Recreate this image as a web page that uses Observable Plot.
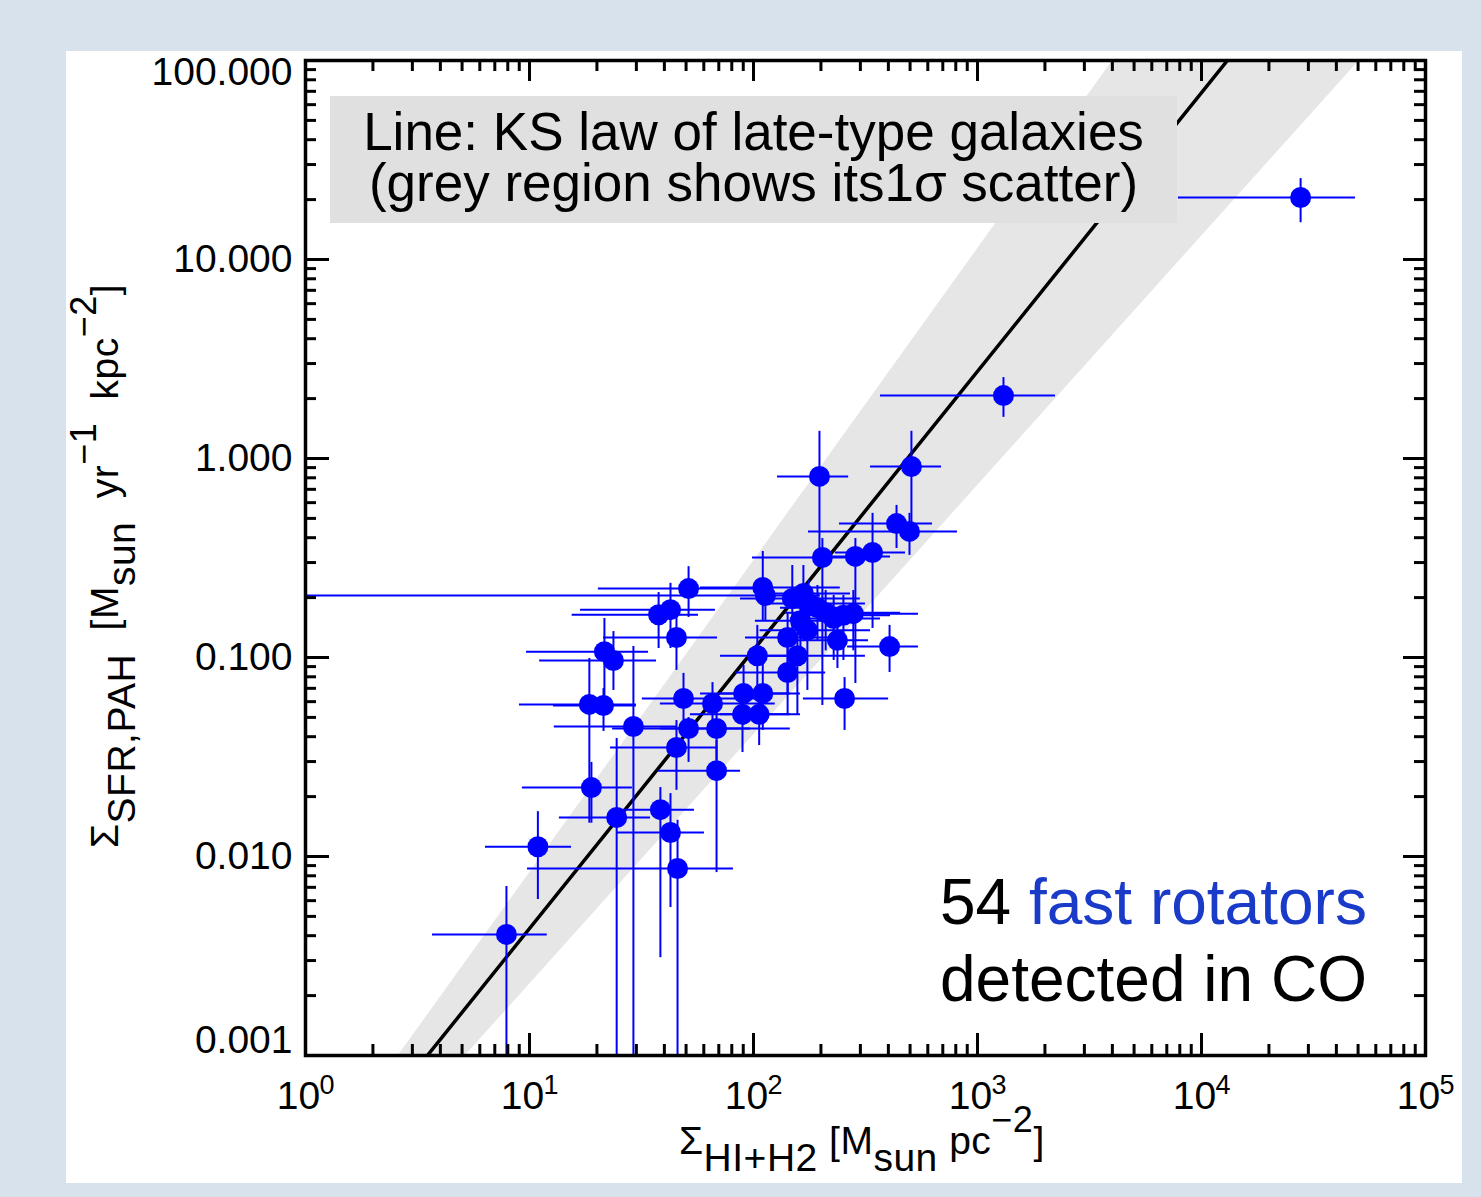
<!DOCTYPE html>
<html><head><meta charset="utf-8">
<script src="https://cdn.jsdelivr.net/npm/d3@7"></script>
<script src="https://cdn.jsdelivr.net/npm/@observablehq/plot@0.6"></script>
<style>
html,body{margin:0;padding:0;}
body{width:1481px;height:1197px;background:#d8e2ec;position:relative;overflow:hidden;font-family:"Liberation Sans",Arial,Helvetica,sans-serif;}
#panel{position:absolute;left:66px;top:51px;width:1396px;height:1132px;background:#fff;}
#chart{position:absolute;left:0;top:0;}
.ov{position:absolute;white-space:nowrap;color:#000;}
#legend{left:330px;top:96px;width:847px;height:127px;background:#e0e0e0;font-size:53px;text-align:center;box-sizing:border-box;}
#legend div{position:absolute;left:0;width:847px;height:50px;line-height:50px;}
#note{left:940px;top:864px;font-size:64px;line-height:77px;}
#xtitle{left:679px;top:1122px;font-size:39px;line-height:38px;letter-spacing:0.5px;}
#ytitle{left:86px;top:848px;font-size:39px;line-height:38px;transform-origin:0 0;transform:rotate(-90deg);word-spacing:12px;letter-spacing:0.5px;}
.sub{position:relative;top:17px;font-size:39px;}
.sup{position:relative;top:-22px;font-size:36px;}
</style></head>
<body>
<div id="panel"></div>
<div id="chart"></div>
<div id="legend" class="ov"><div style="top:11px">Line: KS law of late-type galaxies</div><div style="top:62px">(grey region shows its1σ scatter)</div></div>
<div id="note" class="ov">54 <span style="color:#1a3ac8">fast rotators</span><br>detected in CO</div>
<div id="xtitle" class="ov">Σ<span class="sub">HI+H2</span> [M<span class="sub">sun</span> pc<span class="sup">−2</span>]</div>
<div id="ytitle" class="ov">Σ<span class="sub">SFR,PAH</span> [M<span class="sub">sun</span> yr<span class="sup">−1</span> kpc<span class="sup">−2</span>]</div>
<script>
// Gas surface density (M_sun pc^-2) with error range
const gasX  = [27700,1306,507,197,435,497,203,285,340,51.3,37.7,42.6,45.3,21.6,23.7,18.5,21.4,29.1,48.7,51.3,65.6,68.4,45.3,68.4,18.9,24.5,38.4,42.6,10.9,45.8,7.89,110,113,149,167,176,174,142,228,279,237,405,104,157,142,90.3,110,89.3,106,255,193,210,252,162];
const gasLo = [7890,369,333,128,242,176,99,199,232,20.3,15.5,16.9,21.4,9.70,11.1,9.02,12.8,12.9,31.9,23.5,38.4,38.4,23.0,37.7,9.30,13.6,25.2,24.7,6.36,9.80,3.69,58.0,0.5,87.5,113,119,107,92.1,146,180,154,263,71.2,97,83.1,58,71.2,52.3,71.2,167,132,139,162,102];
const gasHi = [48700,2230,691,266,630,814,323,409,477,119,56.8,67.6,69.1,34.0,36.9,30.0,30.0,45.8,107,97,125,146,69.1,87.5,28.8,34.7,54.5,60.4,15.4,81.4,12.0,244,199,300,271,316,333,221,369,545,326,545,162,316,210,146,162,162,146,401,300,453,409,271];
// SFR surface density from PAH (M_sun yr^-1 kpc^-2) with error range
const sfrY  = [20.5,2.07,0.912,0.813,0.471,0.43,0.318,0.322,0.337,0.222,0.164,0.174,0.126,0.107,0.0966,0.0581,0.0574,0.045,0.0622,0.044,0.0587,0.044,0.0353,0.027,0.0222,0.0157,0.0172,0.0132,0.0112,0.0087,0.00406,0.225,0.205,0.198,0.210,0.187,0.137,0.126,0.157,0.166,0.122,0.1135,0.102,0.102,0.0841,0.066,0.066,0.0518,0.0518,0.0622,0.178,0.168,0.163,0.153];
const sfrLo = [15.3,1.61,0.435,0.35,0.353,0.326,0.0574,0.074,0.140,0.159,0.111,0.111,0.0861,0.0608,0.0683,0.0147,0.0425,0.0001,0.0465,0.0297,0.043,0.0303,0.0215,0.0083,0.0147,0.0001,0.0031,0.00554,0.00608,0.0001,0.0001,0.153,0.153,0.122,0.153,0.122,0.0683,0.0645,0.0966,0.108,0.0881,0.0841,0.0683,0.0512,0.0512,0.0455,0.043,0.0333,0.0361,0.043,0.122,0.108,0.0966,0.108];
const sfrHi = [25.5,2.55,1.37,1.37,0.581,0.53,0.396,0.396,0.53,0.286,0.212,0.236,0.159,0.157,0.135,0.0989,0.0698,0.1135,0.0832,0.0499,0.0748,0.0574,0.0482,0.0383,0.0297,0.0392,0.0222,0.0207,0.0168,0.0152,0.00706,0.341,0.244,0.290,0.290,0.244,0.182,0.168,0.205,0.217,0.159,0.145,0.145,0.145,0.115,0.0912,0.0966,0.0683,0.0683,0.0793,0.230,0.217,0.205,0.205];
// KS law line and its 1-sigma band (end points)
const ksX = [1, 100000];
const ksY = [1.73e-4, 1730];
const bandX  = [1, 100000];
const bandLo = [1.274e-4, 234];
const bandHi = [2.234e-4, 15450];
// ticks
const xMajor = [1, 10, 100, 1000, 10000, 100000];
const xExp = ["0", "1", "2", "3", "4", "5"];
const yMajor = [0.001, 0.01, 0.1, 1, 10, 100];
const yLabels = ["0.001", "0.010", "0.100", "1.000", "10.000", "100.000"];
const mult = [2,3,4,5,6,7,8,9];
const xMinor = xMajor.slice(0, -1).flatMap(d => mult.map(m => m * d));
const yMinor = yMajor.slice(0, -1).flatMap(d => mult.map(m => m * d));

const idx = d3.range(gasX.length);
const FH = 995, FW = 1120;
const blue = "#0000ff";
const font = "Liberation Sans, Arial, Helvetica, sans-serif";

const plot = Plot.plot({
  width: 1481, height: 1197,
  marginLeft: 305, marginRight: 56, marginTop: 60, marginBottom: 142,
  x: {type: "log", domain: [1, 100000], axis: null},
  y: {type: "log", domain: [0.001, 100], axis: null},
  style: {background: "none", fontFamily: font, maxWidth: "none", overflow: "visible"},
  marks: [
    Plot.areaY([0, 1], {x: i => bandX[i], y1: i => bandLo[i], y2: i => bandHi[i], fill: "#e6e6e6", clip: true}),
    Plot.line([0, 1], {x: i => ksX[i], y: i => ksY[i], stroke: "#000", strokeWidth: 3.5, clip: true}),
    Plot.ruleY(idx, {y: i => sfrY[i], x1: i => gasLo[i], x2: i => gasHi[i], stroke: blue, strokeWidth: 2, clip: true}),
    Plot.ruleX(idx, {x: i => gasX[i], y1: i => sfrLo[i], y2: i => sfrHi[i], stroke: blue, strokeWidth: 2, clip: true}),
    Plot.dot(idx, {x: i => gasX[i], y: i => sfrY[i], r: 10.5, fill: blue}),
    // inward ticks, bottom / top
    Plot.tickX(xMajor, {x: d => d, insetTop: FH - 22, stroke: "#000", strokeWidth: 3}),
    Plot.tickX(xMinor, {x: d => d, insetTop: FH - 11, stroke: "#000", strokeWidth: 3}),
    Plot.tickX(xMajor, {x: d => d, insetBottom: FH - 21, stroke: "#000", strokeWidth: 3}),
    Plot.tickX(xMinor, {x: d => d, insetBottom: FH - 11, stroke: "#000", strokeWidth: 3}),
    // inward ticks, left / right
    Plot.tickY(yMajor, {y: d => d, insetRight: FW - 24, stroke: "#000", strokeWidth: 3}),
    Plot.tickY(yMinor, {y: d => d, insetRight: FW - 11, stroke: "#000", strokeWidth: 3}),
    Plot.tickY(yMajor, {y: d => d, insetLeft: FW - 22, stroke: "#000", strokeWidth: 3}),
    Plot.tickY(yMinor, {y: d => d, insetLeft: FW - 11, stroke: "#000", strokeWidth: 3}),
    Plot.frame({stroke: "#000", strokeWidth: 3.5}),
    // y tick labels
    Plot.text([1, 2, 3, 4], {y: i => yMajor[i], text: i => yLabels[i], frameAnchor: "left", textAnchor: "end", dx: -13, fontSize: 39, fill: "#000"}),
    Plot.text([5], {y: i => yMajor[i], text: i => yLabels[i], frameAnchor: "left", textAnchor: "end", dx: -13, dy: 12, fontSize: 39, fill: "#000"}),
    Plot.text([0], {y: i => yMajor[i], text: i => yLabels[i], frameAnchor: "left", textAnchor: "end", dx: -13, dy: -15, fontSize: 39, fill: "#000"}),
    // x tick labels: 10 with exponent
    Plot.text(d3.range(6), {x: i => xMajor[i], text: () => "10", frameAnchor: "bottom", lineAnchor: "bottom", dy: 53, dx: -7, fontSize: 39, fill: "#000"}),
    Plot.text(d3.range(6), {x: i => xMajor[i], text: i => xExp[i], frameAnchor: "bottom", lineAnchor: "bottom", dy: 38, dx: 14, textAnchor: "start", fontSize: 27, fill: "#000"})
  ]
});
document.getElementById("chart").appendChild(plot);
</script>
</body></html>
